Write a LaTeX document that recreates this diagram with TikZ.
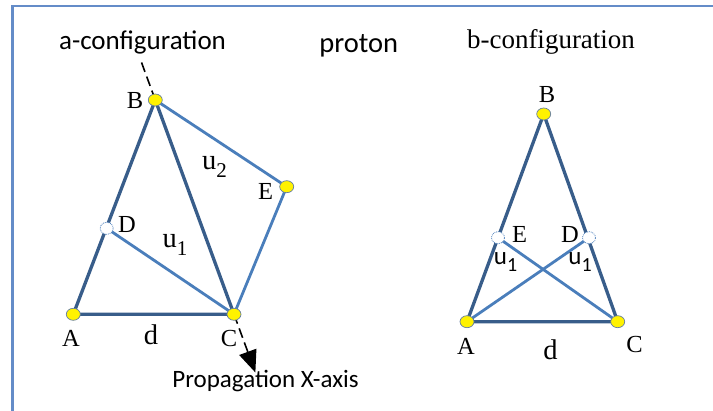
\documentclass[tikz,border=0pt]{standalone}
\usepackage{fontspec}
\setmainfont{Liberation Serif}
\newfontfamily\calib{Carlito}
\usetikzlibrary{calc,arrows.meta,shapes.geometric}
\definecolor{darkedge}{RGB}{56,93,138}
\definecolor{lightedge}{RGB}{74,126,187}
\definecolor{framec}{RGB}{100,140,200}
\definecolor{dotedge}{RGB}{100,125,160}
\pgfdeclarelayer{background}
\pgfsetlayers{background,main}
\begin{document}
\begin{tikzpicture}[x=1pt,y=-1pt,
  heavyline/.style={draw=darkedge,line width=3.3pt,line join=round},
  lightline/.style={draw=lightedge,line width=2.8pt},
  ydot/.style={ellipse,minimum width=14pt,minimum height=12pt,inner sep=0pt,fill=yellow,draw=dotedge,line width=0.7pt},
  wdot/.style={ellipse,minimum width=13pt,minimum height=12pt,inner sep=0pt,fill=white,draw=lightedge,densely dotted,line width=0.8pt},
  lbl/.style={anchor=base,inner sep=0pt,font=\fontsize{24.5}{24.5}\selectfont},
  biglbl/.style={anchor=base,inner sep=0pt,font=\fontsize{28.5}{28.5}\selectfont},
  sanslbl/.style={anchor=base,inner sep=0pt,font=\calib\fontsize{25}{25}\selectfont},
  axisline/.style={line width=1.6pt,dash pattern=on 10pt off 5pt}
]
\useasboundingbox (0,0) rectangle (713,411);
\begin{scope}
  \clip (0,0) rectangle (713,411);
  \draw[framec,line width=2.5pt] (12.5,6) rectangle (740,440);
\end{scope}

% titles
\node[anchor=base,inner sep=0pt,font=\calib\fontsize{27}{27}\selectfont] (ta) at (142.5,50) {a-configuration};
\node[anchor=base,inner sep=0pt,font=\calib\fontsize{28.5}{28.5}\selectfont] (tp) at (358.8,53) {proton};
\node[anchor=base,inner sep=0pt,font=\fontsize{27}{27}\selectfont] (tb) at (551,48.3) {b-configuration};
\node[anchor=base,inner sep=0pt,font=\calib\fontsize{25}{25}\selectfont] (tx) at (265.5,388) {Propagation X-axis};

% a-configuration points
\node[ydot] (aA) at (73.3,314.3) {};
\node[ydot] (aB) at (155.3,100) {};
\node[ydot] (aC) at (234,314.3) {};
\node[wdot] (aD) at (106.7,228.3) {};
\node[ydot] (aE) at (286.7,186.7) {};
\coordinate (atop) at ($(aB.center)!-40pt!(aC.center)$);
\coordinate (abot) at ($(aC.center)!-62pt!(aB.center)$);

\begin{pgfonlayer}{background}
  \draw[heavyline] (aA.center) -- (aB.center) -- (aC.center) -- cycle;
  \draw[lightline] (aD.center) -- (aC.center);
  \draw[lightline] (aB.center) -- (aE.center) -- (aC.center);
  \draw[axisline] (atop) -- (aB.center);
  \draw[axisline,-{Triangle[length=22pt,width=18pt]}] (aC.center) -- (abot);
\end{pgfonlayer}

\node[lbl] (laB) at (135,109) {B};
\node[lbl] (laA) at (71,347) {A};
\node[biglbl] (lad) at (151,345) {d};
\node[lbl] (laC) at (229,347) {C};
\node[lbl] (laD) at (127,233) {D};
\node[lbl] (laE) at (265.5,200) {E};
\node[biglbl] (lau1) at (175,248) {u\raisebox{-8pt}{\fontsize{21}{21}\selectfont 1}};
\node[biglbl] (lau2) at (214.5,170) {u\raisebox{-8pt}{\fontsize{21}{21}\selectfont 2}};

% b-configuration points
\node[ydot] (bA) at (467,321.7) {};
\node[ydot] (bB) at (543.7,114) {};
\node[ydot] (bC) at (617.7,321.7) {};
\node[wdot] (bE) at (498,237.7) {};
\node[wdot] (bD) at (589,237.7) {};

\begin{pgfonlayer}{background}
  \draw[heavyline] (bA.center) -- (bB.center) -- (bC.center) -- cycle;
  \draw[lightline] (bA.center) -- (bD.center);
  \draw[lightline] (bC.center) -- (bE.center);
\end{pgfonlayer}

\node[lbl] (lbB) at (547,103) {B};
\node[lbl] (lbA) at (466,355) {A};
\node[biglbl] (lbd) at (550.5,360) {d};
\node[lbl] (lbC) at (634.5,353) {C};
\node[lbl] (lbE) at (519.5,243) {E};
\node[lbl] (lbD) at (570,243) {D};
\node[sanslbl] (lbu1) at (505.5,265) {u\raisebox{-7pt}{\fontsize{20}{20}\selectfont 1}};
\node[sanslbl] (lbu2) at (580,265) {u\raisebox{-7pt}{\fontsize{20}{20}\selectfont 1}};
\end{tikzpicture}
\end{document}
